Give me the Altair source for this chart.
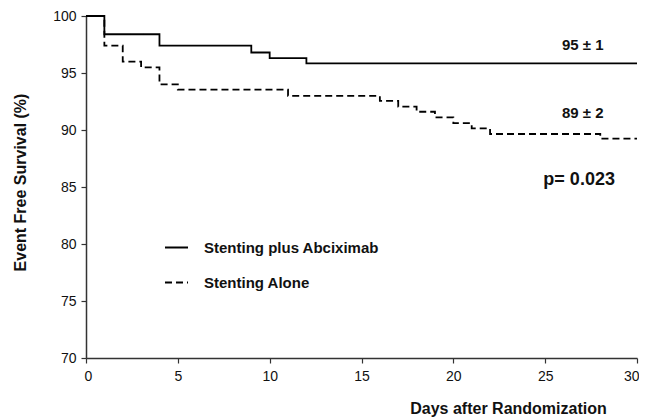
import altair as alt
import pandas as pd

# Kaplan-Meier style step data
days_abx = [0, 1, 4, 9, 10, 12, 30]
surv_abx = [100, 98.4, 97.4, 96.8, 96.3, 95.85, 95.85]

days_alone = [0, 1, 2, 3, 4, 5, 11, 16, 17, 18, 19, 20, 21, 22, 28, 30]
surv_alone = [100, 97.4, 96.0, 95.5, 94.0, 93.55, 93.0, 92.55, 92.05, 91.6,
              91.1, 90.6, 90.15, 89.65, 89.25, 89.25]

groups = ["Stenting plus Abciximab", "Stenting Alone"]

ann_labels = ["95 \u00b1 1", "89 \u00b1 2", "p= 0.023"]
ann_x = [27.05, 27.05, 26.85]
ann_y = [97.45, 91.5, 85.6]
ann_size = [15, 15, 18]

x_ticks = [0, 5, 10, 15, 20, 25, 30]
y_ticks = [70, 75, 80, 85, 90, 95, 100]

FONT = "Liberation Sans"

curves = pd.concat([
    pd.DataFrame({"day": days_abx, "surv": surv_abx, "group": groups[0]}),
    pd.DataFrame({"day": days_alone, "surv": surv_alone, "group": groups[1]}),
])
ann = pd.DataFrame({"label": ann_labels, "day": ann_x, "surv": ann_y, "size": ann_size})

x_scale = alt.Scale(domain=[0, 30], nice=False, zero=False)
y_scale = alt.Scale(domain=[70, 100], nice=False, zero=False)

lines = alt.Chart(curves).mark_line(
    interpolate="step-after", color="black", strokeWidth=1.8
).encode(
    x=alt.X("day:Q", scale=x_scale, axis=alt.Axis(
        values=x_ticks, title="Days after Randomization", grid=False,
        labelFlush=True, labelFlushOffset=2, labelOverlap=False,
        tickSize=5, labelPadding=6, titleX=422, titleY=55,
        titleAlign="center", titleBaseline="alphabetic",
        titleFontSize=16, titleFontWeight="bold")),
    y=alt.Y("surv:Q", scale=y_scale, axis=alt.Axis(
        values=y_ticks, title="Event Free Survival (%)", grid=False,
        labelFlush=False, labelOverlap=False,
        tickSize=5, labelPadding=5, titleX=-66, titleY=166,
        titleAngle=-90, titleAlign="center", titleBaseline="middle",
        titleFontSize=16, titleFontWeight="bold")),
    strokeDash=alt.StrokeDash("group:N", scale=alt.Scale(
        domain=groups, range=[[1, 0], [7, 4]]),
        legend=alt.Legend(title=None, orient="none", legendX=78, legendY=219,
                          symbolType="stroke", symbolSize=530,
                          symbolStrokeColor="black", symbolStrokeWidth=1.8,
                          labelFontSize=15, labelFontWeight="bold",
                          labelFont=FONT, labelColor="#111",
                          labelOffset=15, rowPadding=14, labelLimit=300)),
    detail="group:N",
)

texts = alt.Chart(ann).mark_text(
    font=FONT, fontWeight="bold", color="#111", align="center", baseline="middle"
).encode(
    x=alt.X("day:Q", scale=x_scale),
    y=alt.Y("surv:Q", scale=y_scale),
    text="label:N",
    size=alt.Size("size:Q", scale=None, legend=None),
)

chart = alt.layer(lines, texts).properties(
    width=551, height=342,
    autosize=alt.AutoSizeParams(type="none"),
    padding={"left": 78, "top": 8, "right": 2, "bottom": 60},
).configure_view(stroke=None).configure_axis(
    labelFont=FONT, titleFont=FONT, labelFontSize=14, labelColor="#111",
    titleColor="#111", domainColor="#333", tickColor="#333",
    domainWidth=1.5, tickWidth=1.2,
)

chart.save("out.html", embed_options={"renderer": "svg", "actions": False})
